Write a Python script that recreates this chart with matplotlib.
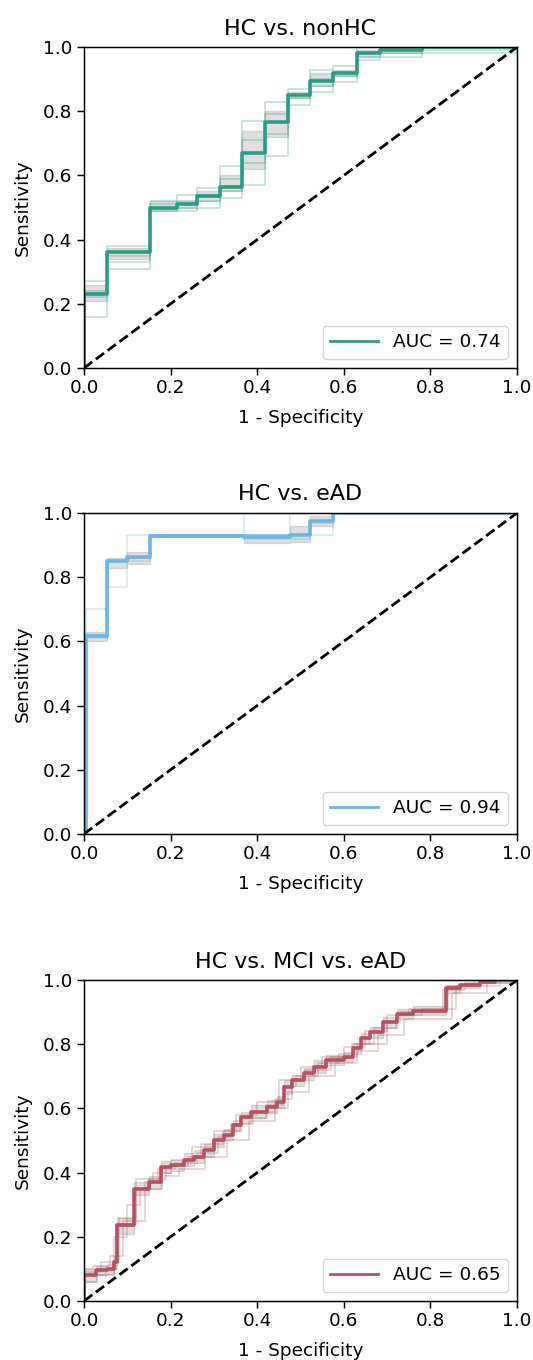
"""
ROC curves for the three classification tasks (mean curve, folds, std band).
"""

import matplotlib
matplotlib.use('Agg')
import matplotlib.pyplot as plt

# ---- HC vs. nonHC ----
fpr_nonhc = [0.0, 0.0, 0.052, 0.152, 0.214, 0.262, 0.314, 0.366, 0.418, 0.472, 0.522, 0.576, 0.63, 0.683, 0.78, 1.0]
tpr_nonhc = [0.0, 0.23, 0.36, 0.50, 0.51, 0.535, 0.565, 0.67, 0.765, 0.85, 0.895, 0.92, 0.98, 0.99, 1.0, 1.0]
low_nonhc = [0.0, 0.21, 0.34, 0.49, 0.50, 0.52, 0.55, 0.62, 0.72, 0.84, 0.88, 0.91, 0.97, 0.98, 1.0, 1.0]
high_nonhc = [0.0, 0.26, 0.375, 0.52, 0.52, 0.55, 0.60, 0.74, 0.80, 0.86, 0.92, 0.93, 0.99, 1.0, 1.0, 1.0]
folds_nonhc = [
    [0.0, 0.27, 0.38, 0.52, 0.54, 0.56, 0.63, 0.77, 0.83, 0.87, 0.93, 0.94, 1.0, 1.0, 1.0, 1.0],
    [0.0, 0.16, 0.31, 0.49, 0.49, 0.50, 0.53, 0.57, 0.66, 0.82, 0.86, 0.89, 0.96, 0.97, 0.99, 1.0],
    [0.0, 0.22, 0.35, 0.51, 0.52, 0.54, 0.59, 0.71, 0.79, 0.85, 0.90, 0.92, 0.98, 1.0, 1.0, 1.0],
    [0.0, 0.24, 0.33, 0.50, 0.50, 0.52, 0.55, 0.64, 0.73, 0.84, 0.88, 0.91, 0.97, 0.98, 0.98, 1.0],
]

# ---- HC vs. eAD ----
fpr_ead = [0.0, 0.005, 0.052, 0.10, 0.152, 0.37, 0.475, 0.522, 0.576, 1.0]
tpr_ead = [0.0, 0.617, 0.851, 0.862, 0.929, 0.925, 0.93, 0.976, 1.0, 1.0]
low_ead = [0.0, 0.60, 0.83, 0.84, 0.925, 0.905, 0.91, 0.96, 1.0, 1.0]
high_ead = [0.0, 0.63, 0.86, 0.88, 0.93, 0.935, 0.96, 0.99, 1.0, 1.0]
folds_ead = [
    [0.0, 0.70, 0.77, 0.93, 0.93, 1.0, 1.0, 1.0, 1.0, 1.0],
    [0.0, 0.62, 0.85, 0.85, 0.93, 0.93, 1.0, 1.0, 1.0, 1.0],
    [0.0, 0.61, 0.85, 0.86, 0.93, 0.92, 0.92, 0.97, 1.0, 1.0],
    [0.0, 0.62, 0.85, 0.86, 0.93, 0.93, 0.93, 0.93, 1.0, 1.0],
]

# ---- HC vs. MCI vs. eAD ----
fpr_mci = [0.0, 0.0, 0.027, 0.054, 0.069, 0.077, 0.115, 0.15, 0.177, 0.20, 0.231, 0.254, 0.277,
           0.30, 0.323, 0.343, 0.362, 0.385, 0.423, 0.446, 0.462, 0.481, 0.508, 0.531, 0.56,
           0.60, 0.622, 0.64, 0.66, 0.691, 0.722, 0.76, 0.837, 0.868, 0.915, 0.95, 1.0]
tpr_mci = [0.0, 0.08, 0.096, 0.10, 0.12, 0.237, 0.35, 0.37, 0.418, 0.423, 0.439, 0.45, 0.47,
           0.502, 0.517, 0.548, 0.574, 0.59, 0.605, 0.621, 0.668, 0.688, 0.709, 0.73, 0.75,
           0.761, 0.787, 0.818, 0.838, 0.869, 0.895, 0.905, 0.974, 0.984, 0.995, 1.0, 1.0]
low_mci = [0.0, 0.06, 0.08, 0.085, 0.10, 0.21, 0.33, 0.35, 0.40, 0.405, 0.42, 0.43, 0.45,
           0.48, 0.50, 0.53, 0.555, 0.57, 0.585, 0.60, 0.645, 0.67, 0.69, 0.71, 0.735,
           0.745, 0.77, 0.80, 0.82, 0.85, 0.88, 0.89, 0.96, 0.975, 0.99, 1.0, 1.0]
high_mci = [0.0, 0.10, 0.11, 0.115, 0.14, 0.26, 0.37, 0.39, 0.435, 0.44, 0.46, 0.47, 0.49,
            0.52, 0.535, 0.565, 0.59, 0.61, 0.625, 0.64, 0.69, 0.705, 0.725, 0.75, 0.765,
            0.775, 0.805, 0.835, 0.855, 0.885, 0.91, 0.92, 0.985, 0.99, 1.0, 1.0, 1.0]
folds_mci = [
    ([0, 0, 0.04, 0.08, 0.12, 0.16, 0.2, 0.25, 0.3, 0.35, 0.4, 0.45, 0.5, 0.55, 0.6, 0.65, 0.7, 0.75, 0.84, 0.9, 1.0],
     [0, 0.09, 0.12, 0.26, 0.38, 0.40, 0.44, 0.48, 0.53, 0.58, 0.62, 0.69, 0.73, 0.76, 0.79, 0.84, 0.89, 0.91, 0.98, 1.0, 1.0]),
    ([0, 0, 0.03, 0.07, 0.1, 0.13, 0.18, 0.22, 0.28, 0.33, 0.38, 0.44, 0.47, 0.52, 0.58, 0.63, 0.68, 0.74, 0.85, 0.93, 1.0],
     [0, 0.06, 0.08, 0.2, 0.3, 0.35, 0.39, 0.41, 0.45, 0.50, 0.56, 0.60, 0.65, 0.70, 0.74, 0.78, 0.83, 0.88, 0.96, 0.99, 1.0]),
    ([0, 0, 0.05, 0.075, 0.12, 0.15, 0.19, 0.24, 0.27, 0.32, 0.36, 0.42, 0.46, 0.49, 0.54, 0.59, 0.62, 0.7, 0.73, 0.83, 0.88, 1.0],
     [0, 0.08, 0.1, 0.24, 0.35, 0.38, 0.42, 0.45, 0.49, 0.53, 0.57, 0.61, 0.67, 0.7, 0.74, 0.77, 0.8, 0.87, 0.9, 0.97, 0.99, 1.0]),
    ([0, 0, 0.02, 0.06, 0.09, 0.14, 0.17, 0.21, 0.26, 0.31, 0.34, 0.39, 0.44, 0.48, 0.51, 0.57, 0.63, 0.67, 0.72, 0.78, 0.86, 0.96, 1.0],
     [0, 0.1, 0.11, 0.14, 0.25, 0.37, 0.41, 0.43, 0.46, 0.51, 0.55, 0.59, 0.63, 0.69, 0.72, 0.76, 0.8, 0.85, 0.89, 0.91, 0.98, 1.0, 1.0]),
]

titles = ['HC vs. nonHC', 'HC vs. eAD', 'HC vs. MCI vs. eAD']
aucs = [0.74, 0.94, 0.65]
colors = ['#2b9a86', '#6db5e2', '#b7505f']

FS = 13.3


def plot_roc(ax, fpr, tpr, low, high, folds, color, title, auc):
    """Draw one ROC panel."""
    for fold in folds:
        if isinstance(fold, tuple):
            fx, fy = fold
        else:
            fx, fy = fpr, fold
        ax.step(fx, fy, where='post', color=color, lw=1.3, alpha=0.28)

    ax.fill_between(fpr, low, high, step='post', color='grey', alpha=0.25, lw=1)
    ax.step(fpr, tpr, where='post', color=color, lw=2.6)
    # legend handle drawn thinner than the mean curve, as in the original
    ax.plot([], [], color=color, lw=2, label=f'AUC = {auc:.2f}')
    ax.plot([0, 1], [0, 1], 'k--', lw=2)

    ax.set_xlim(0, 1)
    ax.set_ylim(0, 1)
    ax.set_title(title, fontsize=16, pad=9)
    ax.set_xlabel('1 - Specificity', fontsize=FS, labelpad=8.5)
    ax.set_ylabel('Sensitivity', fontsize=FS, labelpad=8.5)
    ax.tick_params(labelsize=FS, length=4.7, width=1.07)
    for sp in ax.spines.values():
        sp.set_linewidth(1.07)
    ax.legend(loc='lower right', fontsize=FS, handlelength=2.6)


fig = plt.figure(figsize=(5.33, 13.6), dpi=100)
left, width, height = 0.1576, 0.8124, 0.236
bottoms = [0.7294, 0.3868, 0.0434]

panels = [
    (fpr_nonhc, tpr_nonhc, low_nonhc, high_nonhc, folds_nonhc),
    (fpr_ead, tpr_ead, low_ead, high_ead, folds_ead),
    (fpr_mci, tpr_mci, low_mci, high_mci, folds_mci),
]

for i, (fpr, tpr, low, high, folds) in enumerate(panels):
    ax = fig.add_axes([left, bottoms[i], width, height])
    plot_roc(ax, fpr, tpr, low, high, folds, colors[i], titles[i], aucs[i])

fig.savefig('out.png', dpi=100)
